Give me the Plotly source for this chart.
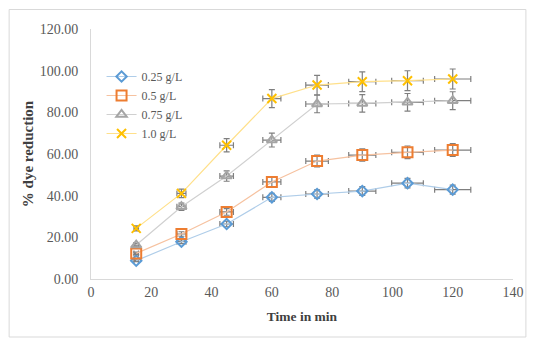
import plotly.graph_objects as go

time_min = [15, 30, 45, 60, 75, 90, 105, 120]
series_names = ["0.25 g/L", "0.5 g/L", "0.75 g/L", "1.0 g/L"]
dye_025 = [8.8, 17.9, 26.4, 39.2, 40.8, 42.2, 46.0, 42.9]
dye_05 = [12.3, 21.6, 32.2, 46.6, 56.6, 59.5, 60.8, 61.9]
dye_075 = [16.3, 34.7, 49.4, 66.7, 84.0, 84.3, 84.8, 85.6]
dye_10 = [24.3, 41.1, 64.2, 86.6, 93.1, 94.7, 95.2, 96.0]
error_pct = 5

series_values = [dye_025, dye_05, dye_075, dye_10]
line_colors = ["#AFCDE9", "#F6C2A0", "#D0D0D0", "#FFE08A"]
marker_colors = ["#5B9BD5", "#ED7D31", "#A5A5A5", "#FFC000"]
symbols = ["diamond-open", "square-open", "triangle-up-open", "x-thin"]
sizes = [8, 10, 9, 9]

fig = go.Figure()
for name, vals, lc, mc, sym, sz in zip(series_names, series_values, line_colors,
                                       marker_colors, symbols, sizes):
    fig.add_trace(go.Scatter(
        x=time_min, y=vals, name=name, mode="lines+markers",
        line=dict(color=lc, width=1.2),
        marker=dict(symbol=sym, size=sz, color=mc, line=dict(color=mc, width=2)),
        error_x=dict(type="percent", value=error_pct, color="#7F7F7F", thickness=1.2, width=3),
        error_y=dict(type="percent", value=error_pct, color="#7F7F7F", thickness=1.2, width=3),
    ))

font_family = "Liberation Serif"
# The page body adds an 8px margin, so the figure is sized to fit the window.
fig.update_layout(
    width=528, height=333,
    margin=dict(l=83, r=19, t=21, b=62),
    paper_bgcolor="white", plot_bgcolor="white",
    font=dict(family=font_family, color="#595959", size=13),
    showlegend=True,
    legend=dict(x=0.025, y=0.868, xanchor="left", yanchor="top",
                bgcolor="rgba(0,0,0,0)", font=dict(size=12, color="#595959"),
                tracegroupgap=0),
    xaxis=dict(range=[0, 140], dtick=20, tick0=0, showgrid=False, zeroline=False,
               showline=True, linecolor="#D9D9D9", linewidth=1, ticks="",
               ticklabeloverflow="allow",
               tickfont=dict(size=14, color="#595959"),
               title=dict(text="<b>Time in min</b>", font=dict(size=13.5, color="#404040"), standoff=12)),
    yaxis=dict(range=[0, 120], dtick=20, tick0=0, tickformat=".2f", showgrid=False,
               zeroline=False, showline=True, linecolor="#D9D9D9", linewidth=1, ticks="",
               ticklabeloverflow="allow", ticklabelstandoff=9,
               tickfont=dict(size=14, color="#595959"),
               title=dict(text="<b>% dye reduction</b>", font=dict(size=15, color="#404040"), standoff=2)),
    shapes=[dict(type="rect", xref="paper", yref="paper",
                 x0=-0.194, x1=1.0306, y0=-0.232, y1=1.078,
                 line=dict(color="#D9D9D9", width=1), fillcolor="rgba(0,0,0,0)", layer="below")],
)

fig.write_html("out.html")
